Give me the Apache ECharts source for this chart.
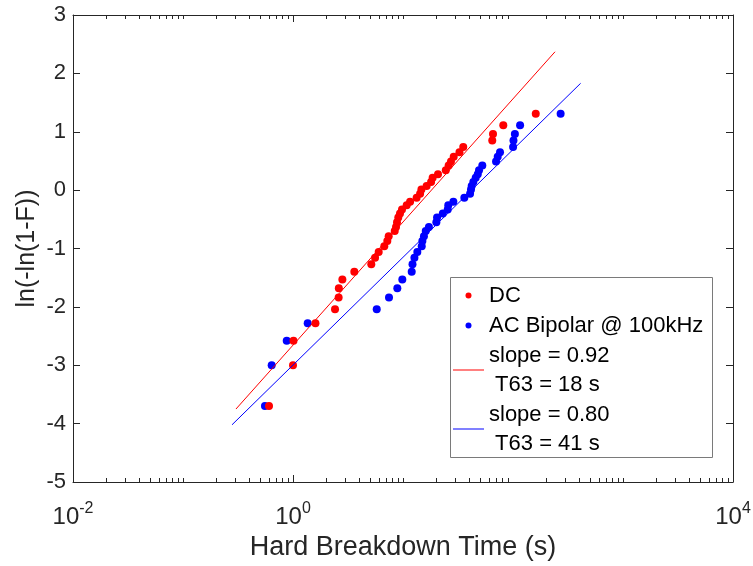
<!DOCTYPE html>
<html><head><meta charset="utf-8">
<script src="https://cdn.jsdelivr.net/npm/echarts@6/dist/echarts.min.js"></script>
<style>html,body{margin:0;padding:0;background:#fff}#c{width:753px;height:566px}</style>
</head><body><div id="c"></div>
<script>
// ---- data ----
const dcTime = [0.605, 1.00, 1.01, 1.60, 2.41, 2.60, 2.61, 2.81, 3.61, 5.15,
  5.57, 6.01, 6.76, 7.20, 7.41, 8.41, 8.64, 8.82, 9.06, 9.39,
  9.79, 10.8, 11.6, 13.3, 14.3, 14.7, 16.4, 18.0, 18.6, 20.8,
  24.5, 26.0, 27.3, 28.9, 32.6, 35.3, 64.8, 65.8, 81.6, 161];
const dcY = [-3.70, -3.00, -2.58, -2.28, -2.04, -1.84, -1.68, -1.53, -1.40, -1.27,
  -1.16, -1.06, -0.96, -0.87, -0.79, -0.70, -0.63, -0.55, -0.47, -0.40,
  -0.33, -0.26, -0.20, -0.13, -0.06, 0.01, 0.07, 0.14, 0.21, 0.27,
  0.34, 0.42, 0.49, 0.57, 0.65, 0.74, 0.85, 0.96, 1.11, 1.31];
const acTime = [0.556, 0.640, 0.877, 1.36, 5.77, 7.46, 8.88, 9.86, 12.0, 12.2,
  12.7, 13.5, 14.8, 15.0, 15.5, 16.1, 17.2, 20.1, 20.4, 23.0,
  25.5, 25.8, 28.7, 36.1, 40.7, 41.5, 42.1, 43.6, 45.8, 47.8,
  49.1, 52.6, 70.1, 72.6, 76.2, 100.2, 101, 104, 116, 271];
const acY = [-3.70, -3.00, -2.58, -2.28, -2.04, -1.84, -1.68, -1.53, -1.40, -1.27,
  -1.16, -1.06, -0.96, -0.87, -0.79, -0.70, -0.63, -0.55, -0.47, -0.40,
  -0.33, -0.26, -0.20, -0.13, -0.06, 0.01, 0.07, 0.14, 0.21, 0.27,
  0.34, 0.42, 0.49, 0.57, 0.65, 0.74, 0.85, 0.96, 1.11, 1.31];
const dcFitX = [0.303, 241];
const dcFitY = [-3.75, 2.37];
const acFitX = [0.279, 412];
const acFitY = [-4.02, 1.83];
const seriesNames = ['DC', 'AC Bipolar @ 100kHz', 'slope = 0.92\n T63 = 18 s', 'slope = 0.80\n T63 = 41 s'];
const xMin = 0.01, xMax = 10000, yMin = -5, yMax = 3, yStep = 1;
const minorDecades = [-2, -1, 0, 1, 2, 3];
const minorMultipliers = [2, 3, 4, 5, 6, 7, 8, 9];
const oddDecadeTicks = [0.1, 10, 1000];

// ---- chart ----
const FONT = '"Liberation Sans", Arial, Helvetica, sans-serif';
const AX = '#262626';
const minorTicks = [];
minorDecades.forEach(e => minorMultipliers.forEach(m => minorTicks.push(m * Math.pow(10, e))));
oddDecadeTicks.forEach(v => minorTicks.push(v));

const zip = (a, b) => a.map((v, i) => [v, b[i]]);
const chart = echarts.init(document.getElementById('c'), null, {renderer: 'canvas'});

const xBase = {
  type: 'log', logBase: 10, min: xMin, max: xMax, splitNumber: 3,
  axisLine: {show: true, onZero: false, lineStyle: {color: AX, width: 1}},
  axisTick: {show: true, inside: true, length: 7, lineStyle: {color: AX, width: 1}},
  minorTick: {show: false}, splitLine: {show: false}
};
const yBase = {
  type: 'value', min: yMin, max: yMax, interval: yStep,
  axisLine: {show: true, onZero: false, lineStyle: {color: AX, width: 1}},
  axisTick: {show: true, inside: true, length: 7, lineStyle: {color: AX, width: 1}},
  splitLine: {show: false}
};
const lineIcon = 'path://M0,0H62V2H0Z';

chart.setOption({
  animation: false,
  backgroundColor: '#fff',
  grid: {left: 73, right: 20, top: 15, bottom: 84, containLabel: false, outerBoundsMode: 'none'},
  xAxis: [
    Object.assign({}, xBase, {
      position: 'bottom',
      name: 'Hard Breakdown Time (s)', nameLocation: 'middle', nameGap: 41,
      nameTextStyle: {fontSize: 27, color: AX, fontFamily: FONT},
      axisLabel: {
        show: true, margin: 19, showMinLabel: true, showMaxLabel: true,
        formatter: v => '{b|10}{s|' + Math.round(Math.log10(v)) + '}',
        rich: {
          b: {fontSize: 24, color: AX, fontFamily: FONT},
          s: {fontSize: 16, color: AX, fontFamily: FONT, padding: [0, 0, 16, 0]}
        }
      }
    }),
    Object.assign({}, xBase, {position: 'top', axisLabel: {show: false}})
  ],
  yAxis: [
    Object.assign({}, yBase, {
      position: 'left',
      name: 'ln(-ln(1-F))', nameLocation: 'middle', nameGap: 33, nameMoveOverlap: false,
      nameTextStyle: {fontSize: 25, color: AX, fontFamily: FONT},
      axisLabel: {show: true, fontSize: 22, color: AX, fontFamily: FONT, margin: 7}
    }),
    Object.assign({}, yBase, {position: 'right', axisLabel: {show: false}})
  ],
  legend: {
    data: [
      {name: seriesNames[0], icon: 'circle'},
      {name: seriesNames[1], icon: 'circle'},
      {name: seriesNames[2], icon: lineIcon},
      {name: seriesNames[3], icon: lineIcon}
    ],
    orient: 'vertical', left: 453, top: 281, padding: 0,
    itemWidth: 31, itemHeight: 6, itemGap: 1, itemTextGap: 4, selectedMode: false, align: 'left',
    textStyle: {fontSize: 22, color: '#000', fontFamily: FONT, lineHeight: 29},
    z: 10
  },
  graphic: [{
    type: 'rect', z: 9,
    shape: {x: 450.5, y: 277.5, width: 262, height: 180},
    style: {fill: '#fff', stroke: '#7a7a7a', lineWidth: 1}
  }],
  series: [
    {
      type: 'custom', name: 'minor', silent: true, clip: false, z: 5,
      xAxisIndex: 0, yAxisIndex: 0,
      data: minorTicks.map(v => [v, yMin]),
      renderItem: (params, api) => {
        const v = api.value(0);
        const b = api.coord([v, yMin]);
        const t = api.coord([v, yMax]);
        const x = Math.round(b[0]) + 0.5;
        return {type: 'group', children: [
          {type: 'line', shape: {x1: x, y1: b[1], x2: x, y2: b[1] - 4}, style: {stroke: AX, lineWidth: 1}},
          {type: 'line', shape: {x1: x, y1: t[1], x2: x, y2: t[1] + 4}, style: {stroke: AX, lineWidth: 1}}
        ]};
      }
    },
    {
      type: 'scatter', name: seriesNames[1], data: zip(acTime, acY),
      symbol: 'circle', symbolSize: 8, itemStyle: {color: '#0000ff', opacity: 1}, z: 2
    },
    {
      type: 'scatter', name: seriesNames[0], data: zip(dcTime, dcY),
      symbol: 'circle', symbolSize: 8, itemStyle: {color: '#ff0000', opacity: 1}, z: 3
    },
    {
      type: 'line', name: seriesNames[2], data: zip(dcFitX, dcFitY),
      symbol: 'none', showSymbol: false, lineStyle: {color: '#ff0000', width: 1}, itemStyle: {color: '#ff0000'}, z: 4
    },
    {
      type: 'line', name: seriesNames[3], data: zip(acFitX, acFitY),
      symbol: 'none', showSymbol: false, lineStyle: {color: '#0000ff', width: 1}, itemStyle: {color: '#0000ff'}, z: 4
    }
  ]
});
</script>
</body></html>
